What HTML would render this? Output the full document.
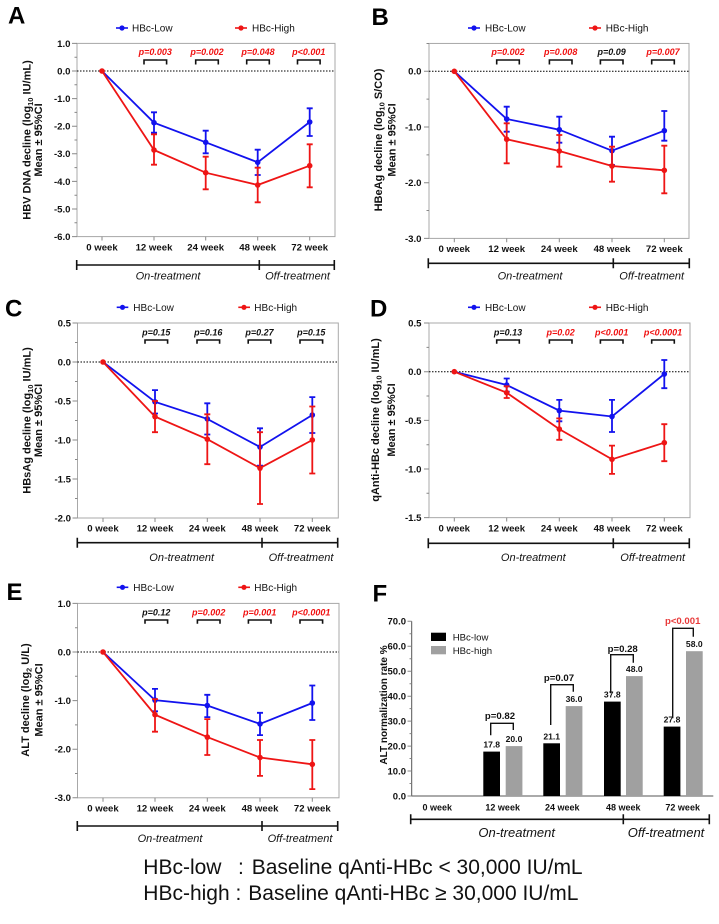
<!DOCTYPE html>
<html><head><meta charset="utf-8"><style>
html,body{margin:0;padding:0;background:#fff;}
svg{display:block;font-family:"Liberation Sans",Arial,sans-serif;}
.tl{font-size:9.6px;font-weight:bold;text-anchor:end;fill:#111;}
.xl{font-size:9.6px;font-weight:bold;text-anchor:middle;fill:#111;}
.lg{font-size:10px;fill:#111;}
.pv{font-size:9px;font-weight:bold;font-style:italic;text-anchor:middle;}
.tr{font-size:11px;font-style:italic;text-anchor:middle;fill:#111;}
.yt{font-size:11px;font-weight:bold;text-anchor:middle;fill:#111;}
.pl{font-size:24px;font-weight:bold;fill:#000;}
.box{fill:none;stroke:#a8a8a8;stroke-width:1;}
.tk{fill:none;stroke:#888;stroke-width:1;}
.zero{stroke:#000;stroke-width:1;stroke-dasharray:1.5,1.5;}
.blu{fill:none;stroke:#1212ee;stroke-width:1.8;}
.red{fill:none;stroke:#ee1515;stroke-width:1.8;}
.br{fill:none;stroke:#111;stroke-width:1.6;}
.tml{fill:none;stroke:#111;stroke-width:1.6;}
</style></head><body>
<svg width="719" height="924" viewBox="0 0 719 924" xmlns="http://www.w3.org/2000/svg">
<rect width="719" height="924" fill="#fff"/>

<!-- ================= PANEL A ================= -->
<text class="pl" x="8" y="23.5">A</text>
<line x1="116" y1="28" x2="128" y2="28" stroke="#1212ee" stroke-width="1.6"/><circle cx="122" cy="28" r="2.6" fill="#1212ee"/>
<text class="lg" x="132" y="31.5">HBc-Low</text>
<line x1="235" y1="28" x2="247" y2="28" stroke="#ee1515" stroke-width="1.6"/><circle cx="241" cy="28" r="2.6" fill="#ee1515"/>
<text class="lg" x="252" y="31.5">HBc-High</text>
<rect class="box" x="77" y="43.4" width="258" height="193.2"/>
<path class="tk" d="M72,43.4H77M72,71H77M72,98.6H77M72,126.2H77M72,153.8H77M72,181.4H77M72,209H77M72,236.6H77M74.5,57.2H77M74.5,84.8H77M74.5,112.4H77M74.5,140H77M74.5,167.6H77M74.5,195.2H77M74.5,222.8H77M102,236.6V240.5M154,236.6V240.5M205.7,236.6V240.5M257.7,236.6V240.5M309.7,236.6V240.5"/>
<text class="tl" x="70.5" y="46.8">1.0</text><text class="tl" x="70.5" y="74.4">0.0</text><text class="tl" x="70.5" y="102">-1.0</text><text class="tl" x="70.5" y="129.6">-2.0</text><text class="tl" x="70.5" y="157.2">-3.0</text><text class="tl" x="70.5" y="184.8">-4.0</text><text class="tl" x="70.5" y="212.4">-5.0</text><text class="tl" x="70.5" y="240">-6.0</text>
<line class="zero" x1="77" y1="71" x2="335" y2="71"/>
<text class="xl" x="102" y="250.5">0 week</text><text class="xl" x="154" y="250.5">12 week</text><text class="xl" x="205.7" y="250.5">24 week</text><text class="xl" x="257.7" y="250.5">48 week</text><text class="xl" x="309.7" y="250.5">72 week</text>
<polyline class="blu" points="102,71 154,122.7 205.7,142.3 257.7,162.3 309.7,122"/>
<path class="blu" d="M154,112.3V132.7M151,112.3H157M151,132.7H157M205.7,130.7V153.3M202.7,130.7H208.7M202.7,153.3H208.7M257.7,149.7V175M254.7,149.7H260.7M254.7,175H260.7M309.7,108.3V136M306.7,108.3H312.7M306.7,136H312.7"/>
<g fill="#1212ee"><circle cx="154" cy="122.7" r="2.8"/><circle cx="205.7" cy="142.3" r="2.8"/><circle cx="257.7" cy="162.3" r="2.8"/><circle cx="309.7" cy="122" r="2.8"/></g>
<polyline class="red" points="102,71 154,150 205.7,172.7 257.7,185 309.7,165.7"/>
<path class="red" d="M154,134.3V164.7M151,134.3H157M151,164.7H157M205.7,156.7V189.3M202.7,156.7H208.7M202.7,189.3H208.7M257.7,167.7V202.3M254.7,167.7H260.7M254.7,202.3H260.7M309.7,144.3V187.3M306.7,144.3H312.7M306.7,187.3H312.7"/>
<g fill="#ee1515"><circle cx="102" cy="71" r="2.8"/><circle cx="154" cy="150" r="2.8"/><circle cx="205.7" cy="172.7" r="2.8"/><circle cx="257.7" cy="185" r="2.8"/><circle cx="309.7" cy="165.7" r="2.8"/></g>
<path class="br" d="M144,64.5V60H166.6V64.5M195.7,64.5V60H218.3V64.5M246.7,64.5V60H269.3V64.5M297.5,64.5V60H320.1V64.5"/>
<text class="pv" x="155.3" y="55" fill="#f01010">p=0.003</text><text class="pv" x="207" y="55" fill="#f01010">p=0.002</text><text class="pv" x="258" y="55" fill="#f01010">p=0.048</text><text class="pv" x="308.8" y="55" fill="#f01010">p&lt;0.001</text>
<path class="tml" d="M76.7,265H334.3M76.7,260V270M259.3,260V270M334.3,260V270"/>
<text class="tr" x="168" y="279.5">On-treatment</text><text class="tr" x="297.5" y="279.5">Off-treatment</text>
<text class="yt" transform="translate(30.7,140) rotate(-90)">HBV DNA decline (log<tspan font-size="7.5" dy="2.5">10</tspan><tspan dy="-2.5"> IU/mL)</tspan></text>
<text class="yt" transform="translate(42,140) rotate(-90)">Mean ± 95%CI</text>

<!-- ================= PANEL B ================= -->
<text class="pl" x="371.5" y="25">B</text>
<line x1="468" y1="28" x2="480" y2="28" stroke="#1212ee" stroke-width="1.6"/><circle cx="474" cy="28" r="2.6" fill="#1212ee"/>
<text class="lg" x="485" y="31.5">HBc-Low</text>
<line x1="589" y1="28" x2="601" y2="28" stroke="#ee1515" stroke-width="1.6"/><circle cx="595" cy="28" r="2.6" fill="#ee1515"/>
<text class="lg" x="605.7" y="31.5">HBc-High</text>
<rect class="box" x="429" y="43.45" width="260" height="194.95"/>
<path class="tk" d="M424,71.3H429M424,127H429M424,182.7H429M424,238.4H429M426.5,43.45H429M426.5,99.15H429M426.5,154.85H429M426.5,210.55H429M454.3,238.4V242.3M506.7,238.4V242.3M559.3,238.4V242.3M612,238.4V242.3M664.3,238.4V242.3"/>
<text class="tl" x="421.5" y="74.7">0.0</text><text class="tl" x="421.5" y="130.4">-1.0</text><text class="tl" x="421.5" y="186.1">-2.0</text><text class="tl" x="421.5" y="241.8">-3.0</text>
<line class="zero" x1="429" y1="71.3" x2="689" y2="71.3"/>
<text class="xl" x="454.3" y="252">0 week</text><text class="xl" x="506.7" y="252">12 week</text><text class="xl" x="559.3" y="252">24 week</text><text class="xl" x="612" y="252">48 week</text><text class="xl" x="664.3" y="252">72 week</text>
<polyline class="blu" points="454.3,71.3 506.7,119 559.3,129.7 612,150.7 664.3,130.7"/>
<path class="blu" d="M506.7,106.7V131.7M503.7,106.7H509.7M503.7,131.7H509.7M559.3,116.7V142.7M556.3,116.7H562.3M556.3,142.7H562.3M612,136.7V165M609,136.7H615M609,165H615M664.3,111V140.7M661.3,111H667.3M661.3,140.7H667.3"/>
<g fill="#1212ee"><circle cx="506.7" cy="119" r="2.8"/><circle cx="559.3" cy="129.7" r="2.8"/><circle cx="612" cy="150.7" r="2.8"/><circle cx="664.3" cy="130.7" r="2.8"/></g>
<polyline class="red" points="454.3,71.3 506.7,139.3 559.3,151 612,166 664.3,170.3"/>
<path class="red" d="M506.7,123.3V163.3M503.7,123.3H509.7M503.7,163.3H509.7M559.3,135V166.7M556.3,135H562.3M556.3,166.7H562.3M612,146.7V181.7M609,146.7H615M609,181.7H615M664.3,145.7V193.3M661.3,145.7H667.3M661.3,193.3H667.3"/>
<g fill="#ee1515"><circle cx="454.3" cy="71.3" r="2.8"/><circle cx="506.7" cy="139.3" r="2.8"/><circle cx="559.3" cy="151" r="2.8"/><circle cx="612" cy="166" r="2.8"/><circle cx="664.3" cy="170.3" r="2.8"/></g>
<path class="br" d="M496.7,64.5V60H519.3V64.5M549.4,64.5V60H572V64.5M600.4,64.5V60H623V64.5M651.7,64.5V60H674.3V64.5"/>
<text class="pv" x="508" y="55" fill="#f01010">p=0.002</text><text class="pv" x="560.7" y="55" fill="#f01010">p=0.008</text><text class="pv" x="611.7" y="55" fill="#111">p=0.09</text><text class="pv" x="663" y="55" fill="#f01010">p=0.007</text>
<path class="tml" d="M428.3,263.3H689.3M428.3,258.3V268.3M613.3,258.3V268.3M689.3,258.3V268.3"/>
<text class="tr" x="530" y="279.5">On-treatment</text><text class="tr" x="651.7" y="279.5">Off-treatment</text>
<text class="yt" transform="translate(382,140) rotate(-90)">HBeAg decline (log<tspan font-size="7.5" dy="2.5">10</tspan><tspan dy="-2.5"> S/CO)</tspan></text>
<text class="yt" transform="translate(395.3,140) rotate(-90)">Mean ± 95%CI</text>

<!-- ================= PANEL C ================= -->
<text class="pl" x="5" y="316.5">C</text>
<line x1="116.7" y1="307.3" x2="128.3" y2="307.3" stroke="#1212ee" stroke-width="1.6"/><circle cx="122.5" cy="307.3" r="2.6" fill="#1212ee"/>
<text class="lg" x="133.3" y="310.8">HBc-Low</text>
<line x1="238.3" y1="307.3" x2="250" y2="307.3" stroke="#ee1515" stroke-width="1.6"/><circle cx="244" cy="307.3" r="2.6" fill="#ee1515"/>
<text class="lg" x="254.3" y="310.8">HBc-High</text>
<rect class="box" x="77.5" y="323" width="260.8" height="195"/>
<path class="tk" d="M72.5,323H77.5M72.5,362H77.5M72.5,401H77.5M72.5,440H77.5M72.5,479H77.5M72.5,518H77.5M75,342.5H77.5M75,381.5H77.5M75,420.5H77.5M75,459.5H77.5M75,498.5H77.5M103,518V522M155,518V522M207.3,518V522M260,518V522M312.3,518V522"/>
<text class="tl" x="71" y="326.4">0.5</text><text class="tl" x="71" y="365.4">0.0</text><text class="tl" x="71" y="404.4">-0.5</text><text class="tl" x="71" y="443.4">-1.0</text><text class="tl" x="71" y="482.4">-1.5</text><text class="tl" x="71" y="521.4">-2.0</text>
<line class="zero" x1="77.5" y1="362" x2="338.3" y2="362"/>
<text class="xl" x="103" y="531.5">0 week</text><text class="xl" x="155" y="531.5">12 week</text><text class="xl" x="207.3" y="531.5">24 week</text><text class="xl" x="260" y="531.5">48 week</text><text class="xl" x="312.3" y="531.5">72 week</text>
<polyline class="blu" points="103,362 155,401.8 207.3,418.9 260,447 312.3,415"/>
<path class="blu" d="M155,390.1V413.5M152,390.1H158M152,413.5H158M207.3,403.3V434.5M204.3,403.3H210.3M204.3,434.5H210.3M260,428.3V465.7M257,428.3H263M257,465.7H263M312.3,397.1V433M309.3,397.1H315.3M309.3,433H315.3"/>
<g fill="#1212ee"><circle cx="155" cy="401.8" r="2.8"/><circle cx="207.3" cy="418.9" r="2.8"/><circle cx="260" cy="447" r="2.8"/><circle cx="312.3" cy="415" r="2.8"/></g>
<polyline class="red" points="103,362 155,416.6 207.3,439.2 260,468.1 312.3,440"/>
<path class="red" d="M155,401V432.2M152,401H158M152,432.2H158M207.3,414.3V464.2M204.3,414.3H210.3M204.3,464.2H210.3M260,432.2V504M257,432.2H263M257,504H263M312.3,406.5V473.5M309.3,406.5H315.3M309.3,473.5H315.3"/>
<g fill="#ee1515"><circle cx="103" cy="362" r="2.8"/><circle cx="155" cy="416.6" r="2.8"/><circle cx="207.3" cy="439.2" r="2.8"/><circle cx="260" cy="468.1" r="2.8"/><circle cx="312.3" cy="440" r="2.8"/></g>
<path class="br" d="M145,343.7V340H167.6V343.7M197,343.7V340H219.6V343.7M248.2,343.7V340H270.8V343.7M300,343.7V340H322.6V343.7"/>
<text class="pv" x="156.3" y="335.5" fill="#111">p=0.15</text><text class="pv" x="208.3" y="335.5" fill="#111">p=0.16</text><text class="pv" x="259.5" y="335.5" fill="#111">p=0.27</text><text class="pv" x="311.3" y="335.5" fill="#111">p=0.15</text>
<path class="tml" d="M77.3,542.7H337.7M77.3,537.7V547.7M262,537.7V547.7M337.7,537.7V547.7"/>
<text class="tr" x="181.7" y="561">On-treatment</text><text class="tr" x="301" y="561">Off-treatment</text>
<text class="yt" transform="translate(30.7,420.5) rotate(-90)">HBsAg decline (log<tspan font-size="7.5" dy="2.5">10</tspan><tspan dy="-2.5"> IU/mL)</tspan></text>
<text class="yt" transform="translate(42,420.5) rotate(-90)">Mean ± 95%CI</text>

<!-- ================= PANEL D ================= -->
<text class="pl" x="370" y="316.5">D</text>
<line x1="468" y1="307.3" x2="480" y2="307.3" stroke="#1212ee" stroke-width="1.6"/><circle cx="474" cy="307.3" r="2.6" fill="#1212ee"/>
<text class="lg" x="485" y="310.8">HBc-Low</text>
<line x1="589" y1="307.3" x2="601" y2="307.3" stroke="#ee1515" stroke-width="1.6"/><circle cx="595" cy="307.3" r="2.6" fill="#ee1515"/>
<text class="lg" x="605.7" y="310.8">HBc-High</text>
<rect class="box" x="429" y="323" width="261" height="194.65"/>
<path class="tk" d="M424,323H429M424,371.7H429M424,420.35H429M424,469H429M424,517.65H429M426.5,347.35H429M426.5,396H429M426.5,444.7H429M426.5,493.3H429M454.3,517.65V521.5M506.7,517.65V521.5M559.3,517.65V521.5M612,517.65V521.5M664.3,517.65V521.5"/>
<text class="tl" x="421.5" y="326.4">0.5</text><text class="tl" x="421.5" y="375.1">0.0</text><text class="tl" x="421.5" y="423.75">-0.5</text><text class="tl" x="421.5" y="472.4">-1.0</text><text class="tl" x="421.5" y="521.05">-1.5</text>
<line class="zero" x1="429" y1="371.7" x2="690" y2="371.7"/>
<text class="xl" x="454.3" y="531.5">0 week</text><text class="xl" x="506.7" y="531.5">12 week</text><text class="xl" x="559.3" y="531.5">24 week</text><text class="xl" x="612" y="531.5">48 week</text><text class="xl" x="664.3" y="531.5">72 week</text>
<polyline class="blu" points="454.3,371.7 506.7,385 559.3,410.6 612,416.5 664.3,374"/>
<path class="blu" d="M506.7,378.5V391.6M503.7,378.5H509.7M503.7,391.6H509.7M559.3,399.9V421.3M556.3,399.9H562.3M556.3,421.3H562.3M612,399.9V432M609,399.9H615M609,432H615M664.3,360V388.2M661.3,360H667.3M661.3,388.2H667.3"/>
<g fill="#1212ee"><circle cx="506.7" cy="385" r="2.8"/><circle cx="559.3" cy="410.6" r="2.8"/><circle cx="612" cy="416.5" r="2.8"/><circle cx="664.3" cy="374" r="2.8"/></g>
<polyline class="red" points="454.3,371.7 506.7,392.7 559.3,429.1 612,459.3 664.3,442.7"/>
<path class="red" d="M506.7,386.3V398M503.7,386.3H509.7M503.7,398H509.7M559.3,418.4V439.8M556.3,418.4H562.3M556.3,439.8H562.3M612,445.6V473.9M609,445.6H615M609,473.9H615M664.3,424.2V461.2M661.3,424.2H667.3M661.3,461.2H667.3"/>
<g fill="#ee1515"><circle cx="454.3" cy="371.7" r="2.8"/><circle cx="506.7" cy="392.7" r="2.8"/><circle cx="559.3" cy="429.1" r="2.8"/><circle cx="612" cy="459.3" r="2.8"/><circle cx="664.3" cy="442.7" r="2.8"/></g>
<path class="br" d="M496.7,343.7V340H519.3V343.7M549.4,343.7V340H572V343.7M600.4,343.7V340H623V343.7M651.7,343.7V340H674.3V343.7"/>
<text class="pv" x="508" y="335.5" fill="#111">p=0.13</text><text class="pv" x="560.7" y="335.5" fill="#f01010">p=0.02</text><text class="pv" x="611.7" y="335.5" fill="#f01010">p&lt;0.001</text><text class="pv" x="663" y="335.5" fill="#f01010">p&lt;0.0001</text>
<path class="tml" d="M428.3,543.3H689.3M428.3,538.3V548.3M613.3,538.3V548.3M689.3,538.3V548.3"/>
<text class="tr" x="533.3" y="561">On-treatment</text><text class="tr" x="652.7" y="561">Off-treatment</text>
<text class="yt" transform="translate(379,420) rotate(-90)">qAnti-HBc decline (log<tspan font-size="7.5" dy="2.5">10</tspan><tspan dy="-2.5"> IU/mL)</tspan></text>
<text class="yt" transform="translate(395,420) rotate(-90)">Mean ± 95%CI</text>

<!-- ================= PANEL E ================= -->
<text class="pl" x="6.5" y="600">E</text>
<line x1="116.7" y1="587.3" x2="128.3" y2="587.3" stroke="#1212ee" stroke-width="1.6"/><circle cx="122.5" cy="587.3" r="2.6" fill="#1212ee"/>
<text class="lg" x="133.3" y="590.8">HBc-Low</text>
<line x1="238.3" y1="587.3" x2="250" y2="587.3" stroke="#ee1515" stroke-width="1.6"/><circle cx="244" cy="587.3" r="2.6" fill="#ee1515"/>
<text class="lg" x="254.3" y="590.8">HBc-High</text>
<rect class="box" x="77.5" y="603.4" width="261.5" height="194.4"/>
<path class="tk" d="M72.5,603.4H77.5M72.5,652H77.5M72.5,700.6H77.5M72.5,749.2H77.5M72.5,797.8H77.5M75,627.7H77.5M75,676.3H77.5M75,724.9H77.5M75,773.5H77.5M103,797.8V801.7M155,797.8V801.7M207.3,797.8V801.7M260,797.8V801.7M312.3,797.8V801.7"/>
<text class="tl" x="71" y="606.8">1.0</text><text class="tl" x="71" y="655.4">0.0</text><text class="tl" x="71" y="704">-1.0</text><text class="tl" x="71" y="752.6">-2.0</text><text class="tl" x="71" y="801.2">-3.0</text>
<line class="zero" x1="77.5" y1="652" x2="339" y2="652"/>
<text class="xl" x="103" y="811.5">0 week</text><text class="xl" x="155" y="811.5">12 week</text><text class="xl" x="207.3" y="811.5">24 week</text><text class="xl" x="260" y="811.5">48 week</text><text class="xl" x="312.3" y="811.5">72 week</text>
<polyline class="blu" points="103,652 155,700.1 207.3,705.5 260,723.9 312.3,703"/>
<path class="blu" d="M155,688.9V711.3M152,688.9H158M152,711.3H158M207.3,694.8V717.1M204.3,694.8H210.3M204.3,717.1H210.3M260,712.8V735.1M257,712.8H263M257,735.1H263M312.3,685.5V720M309.3,685.5H315.3M309.3,720H315.3"/>
<g fill="#1212ee"><circle cx="155" cy="700.1" r="2.8"/><circle cx="207.3" cy="705.5" r="2.8"/><circle cx="260" cy="723.9" r="2.8"/><circle cx="312.3" cy="703" r="2.8"/></g>
<polyline class="red" points="103,652 155,714.7 207.3,737.1 260,757.5 312.3,764.3"/>
<path class="red" d="M155,699.1V731.7M152,699.1H158M152,731.7H158M207.3,719.1V755M204.3,719.1H210.3M204.3,755H210.3M260,740V775.9M257,740H263M257,775.9H263M312.3,740V789.1M309.3,740H315.3M309.3,789.1H315.3"/>
<g fill="#ee1515"><circle cx="103" cy="652" r="2.8"/><circle cx="155" cy="714.7" r="2.8"/><circle cx="207.3" cy="737.1" r="2.8"/><circle cx="260" cy="757.5" r="2.8"/><circle cx="312.3" cy="764.3" r="2.8"/></g>
<path class="br" d="M145,623.7V620H167.6V623.7M197.4,623.7V620H220V623.7M248.4,623.7V620H271V623.7M300,623.7V620H322.6V623.7"/>
<text class="pv" x="156.3" y="615.5" fill="#111">p=0.12</text><text class="pv" x="208.7" y="615.5" fill="#f01010">p=0.002</text><text class="pv" x="259.7" y="615.5" fill="#f01010">p=0.001</text><text class="pv" x="311.3" y="615.5" fill="#f01010">p&lt;0.0001</text>
<path class="tml" d="M77.3,826H337.7M77.3,821V831M262,821V831M337.7,821V831"/>
<text class="tr" x="170" y="842">On-treatment</text><text class="tr" x="300" y="842">Off-treatment</text>
<text class="yt" transform="translate(29,700) rotate(-90)">ALT decline (log<tspan font-size="7.5" dy="2.5">2</tspan><tspan dy="-2.5"> U/L)</tspan></text>
<text class="yt" transform="translate(42.3,700) rotate(-90)">Mean ± 95%CI</text>

<!-- ================= PANEL F ================= -->
<text class="pl" x="372.5" y="601.7">F</text>
<path d="M411.7,621.2V796H713.3" fill="none" stroke="#555" stroke-width="1"/>
<path class="tk" d="M407.5,796H411.7M407.5,771H411.7M407.5,746.1H411.7M407.5,721.1H411.7M407.5,696.2H411.7M407.5,671.2H411.7M407.5,646.2H411.7M407.5,621.3H411.7M409.5,783.5H411.7M409.5,758.5H411.7M409.5,733.6H411.7M409.5,708.6H411.7M409.5,683.7H411.7M409.5,658.7H411.7M409.5,633.8H411.7"/>
<g style="font-size:9.5px;font-weight:bold;text-anchor:end;fill:#111">
<text x="406" y="799.3">0.0</text><text x="406" y="774.3">10.0</text><text x="406" y="749.4">20.0</text><text x="406" y="724.4">30.0</text><text x="406" y="699.5">40.0</text><text x="406" y="674.5">50.0</text><text x="406" y="649.5">60.0</text><text x="406" y="624.6">70.0</text>
</g>
<g fill="#000"><rect x="483.3" y="751.6" width="16.7" height="44.4"/><rect x="543.3" y="743.3" width="16.7" height="52.7"/><rect x="604" y="701.6" width="16.7" height="94.4"/><rect x="663.7" y="726.6" width="16.7" height="69.4"/></g>
<g fill="#a0a0a0"><rect x="505.7" y="746.1" width="16.7" height="49.9"/><rect x="565.7" y="706.1" width="16.7" height="89.9"/><rect x="626" y="676.1" width="16.7" height="119.9"/><rect x="686" y="651.2" width="16.7" height="144.8"/></g>
<g style="font-size:8.6px;font-weight:bold;text-anchor:middle;fill:#111">
<text x="491.7" y="747.6">17.8</text><text x="514" y="742.1">20.0</text><text x="551.7" y="739.3">21.1</text><text x="574" y="702.1">36.0</text><text x="612.3" y="697.6">37.8</text><text x="634.3" y="672.1">48.0</text><text x="672" y="722.6">27.8</text><text x="694.3" y="647.2">58.0</text>
</g>
<g style="font-size:9px;font-weight:bold;text-anchor:middle;fill:#111">
<text x="437.3" y="810.5">0 week</text><text x="502.7" y="810.5">12 week</text><text x="562.3" y="810.5">24 week</text><text x="623.3" y="810.5">48 week</text><text x="682.7" y="810.5">72 week</text>
</g>
<rect x="431" y="632.7" width="15" height="8.3" fill="#000"/>
<text x="452.7" y="640.5" style="font-size:9.6px;fill:#111">HBc-low</text>
<rect x="431" y="646" width="15" height="8.3" fill="#a0a0a0"/>
<text x="452.7" y="654" style="font-size:9.6px;fill:#111">HBc-high</text>
<path fill="none" stroke="#111" stroke-width="1.4" d="M490.7,735.3V723.3H513.3V730M550.7,725V684.7H573.3V691.7M610.7,693.3V654.7H633.3V662.7M672.7,718.3V628.3H693.3V636.7"/>
<g style="font-size:9.6px;font-weight:bold;text-anchor:middle">
<text x="500" y="719.2" fill="#111">p=0.82</text><text x="559" y="680.8" fill="#111">p=0.07</text><text x="622.7" y="652.2" fill="#111">p=0.28</text><text x="682.7" y="624.2" fill="#e83a3a">p&lt;0.001</text>
</g>
<path class="tml" d="M410.7,819.3H709.3M410.7,814.3V824.3M623.3,814.3V824.3M709.3,814.3V824.3"/>
<text x="516.7" y="837" style="font-size:13px;font-style:italic;text-anchor:middle;fill:#111">On-treatment</text>
<text x="666" y="837" style="font-size:13px;font-style:italic;text-anchor:middle;fill:#111">Off-treatment</text>
<text transform="translate(387,705) rotate(-90)" style="font-size:10px;font-weight:bold;text-anchor:middle;fill:#111">ALT normalization rate %</text>

<!-- ================= FOOTNOTE ================= -->
<g style="font-size:21px;fill:#111">
<text x="143.3" y="874">HBc-low</text><text x="238" y="874">:</text><text x="251.7" y="874">Baseline qAnti-HBc &lt; 30,000 IU/mL</text>
<text x="143.3" y="900">HBc-high</text><text x="235.5" y="900">:</text><text x="248.3" y="900">Baseline qAnti-HBc ≥ 30,000 IU/mL</text>
</g>
</svg>
</body></html>
